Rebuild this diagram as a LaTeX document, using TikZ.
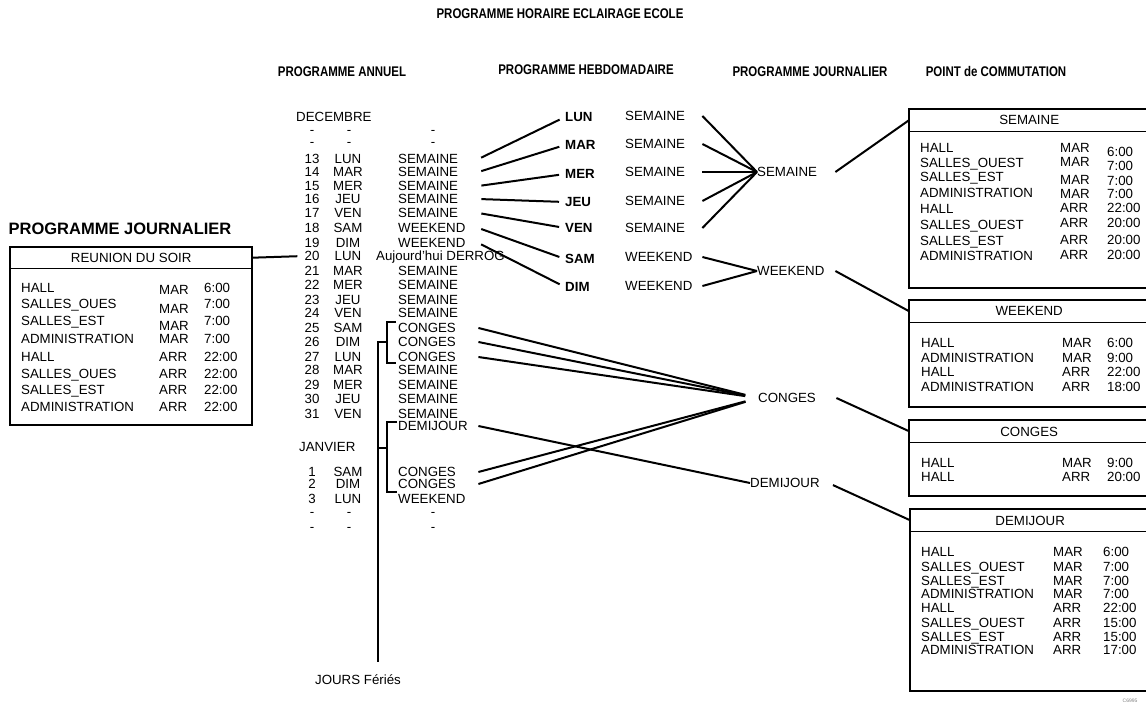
\documentclass[tikz,border=0pt]{standalone}
\usepackage{fontspec}
\setmainfont{Liberation Sans}
\newfontfamily\narrowfont{Liberation Sans}[FakeStretch=0.82]
\newcommand\txtsize{\fontsize{13.3}{15}\selectfont}

\begin{document}
\begin{tikzpicture}[x=1pt, y=-1pt,
  txt/.style={font=\txtsize, inner sep=0pt, text height=9.6pt, text depth=0pt},
  bld/.style={txt, font=\txtsize\bfseries},
  ann/.style={txt, anchor=west, text width=80pt},
  wday/.style={bld, anchor=west},
  wtype/.style={txt, anchor=west, text width=77pt},
  dtype/.style={txt, anchor=west, text width=78pt},
  cell/.style={txt, anchor=west},
  colhead/.style={font=\narrowfont\fontsize{14}{16}\selectfont\bfseries,
    inner sep=0pt, text height=10pt, text depth=0pt},
  bigtitle/.style={font=\fontsize{16.5}{18}\selectfont\bfseries,
    inner sep=0pt, text height=12pt, text depth=0pt},
  hdr/.style={txt, anchor=north west, minimum height=22pt},
  link/.style={line width=2pt},
  frame/.style={line width=2.5pt},
  rule/.style={line width=1.1pt},
  brk/.style={line width=1.3pt}
]
\useasboundingbox (0,0) rectangle (1146,711);

% titres
\node[colhead] (titre) at (560,14) {PROGRAMME HORAIRE ECLAIRAGE ECOLE};
\node[colhead] (hann) at (342,72) {PROGRAMME ANNUEL};
\node[colhead] (hheb) at (586,70) {PROGRAMME HEBDOMADAIRE};
\node[colhead] (hjou) at (810,72) {PROGRAMME JOURNALIER};
\node[colhead] (hpoi) at (996,72) {POINT de COMMUTATION};

% programme annuel
\node[txt, anchor=west] (dec) at (296,117) {DECEMBRE};
\foreach \y [count=\k] in {130,142,512,527} {
  \node[txt] (ta\k) at (312,\y) {-};
  \node[txt] (tb\k) at (349,\y) {-};
  \node[txt] (tc\k) at (433,\y) {-};
}
\foreach \n/\d/\t/\y in {13/LUN/SEMAINE/159, 14/MAR/SEMAINE/172,
    15/MER/SEMAINE/186, 16/JEU/SEMAINE/199, 17/VEN/SEMAINE/213,
    18/SAM/WEEKEND/228, 19/DIM/WEEKEND/243, 21/MAR/SEMAINE/271,
    22/MER/SEMAINE/285, 23/JEU/SEMAINE/300, 24/VEN/SEMAINE/313,
    25/SAM/CONGES/328, 26/DIM/CONGES/342, 27/LUN/CONGES/357,
    28/MAR/SEMAINE/370, 29/MER/SEMAINE/385, 30/JEU/SEMAINE/399,
    31/VEN/SEMAINE/414, 1/SAM/CONGES/472, 2/DIM/CONGES/484,
    3/LUN/WEEKEND/499} {
  \node[txt] (n\n) at (312,\y) {\n};
  \node[txt] (d\n) at (348,\y) {\d};
  \node[ann] (t\n) at (398,\y) {\t};
}
\node[txt] (n20) at (312,256) {20};
\node[txt] (d20) at (348,256) {LUN};
\node[txt, anchor=west] (t20) at (376,256) {Aujourd'hui DERROG};
\node[ann] (tdemi) at (398,426) {DEMIJOUR};
\node[txt, anchor=west] (jan) at (299,447) {JANVIER};
\node[txt] (feries) at (358,680) {JOURS Fériés};

% jours feries
\draw[brk] (396,322) -- (387,322) -- (387,363) -- (396,363);
\draw[brk] (387,342) -- (378,342) -- (378,662);
\draw[brk] (397,422) -- (387,422) -- (387,492) -- (397,492);
\draw[brk] (387,448) -- (378,448);

% programme hebdomadaire
\foreach \d/\y [count=\k] in {LUN/117, MAR/145, MER/174, JEU/202,
    VEN/228, SAM/259, DIM/287}
  \node[wday] (w\k) at (565,\y) {\d};
\foreach \t/\y [count=\k] in {SEMAINE/116, SEMAINE/144, SEMAINE/172,
    SEMAINE/201, SEMAINE/228, WEEKEND/257, WEEKEND/286}
  \node[wtype] (s\k) at (625,\y) {\t};

% programme journalier
\node[dtype] (jsem) at (757,172) {SEMAINE};
\node[dtype] (jwe) at (757,271) {WEEKEND};
\node[dtype] (jcg) at (758,398) {CONGES};
\node[dtype] (jdj) at (750,483) {DEMIJOUR};

% liaisons
\foreach \a/\b in {13/1, 14/2, 15/3, 16/4, 17/5, 18/6, 19/7}
  \draw[link, shorten <=3pt, shorten >=6pt] (t\a.east) -- (w\b.west);
\foreach \k in {1,...,5}
  \draw[link] (s\k.east) -- (jsem.west);
\foreach \k in {6,7}
  \draw[link] (s\k.east) -- (jwe.west);
\foreach \a in {25,26,27,1,2}
  \draw[link, shorten >=13pt] (t\a.east) -- (jcg.west);
\draw[link] (tdemi.east) -- (jdj.west);

% points de commutation
\node[hdr, minimum width=240pt] (hsem) at (909,109) {SEMAINE};
\draw[frame] (hsem.north west) rectangle (1149,288);
\draw[rule] (hsem.south west) -- (hsem.south east);
\foreach \nm/\ny/\md/\my/\tm/\ty [count=\k] in {
    HALL/148/MAR/148/6:00/152, SALLES\_OUEST/163/MAR/162/7:00/166,
    SALLES\_EST/177/MAR/180/7:00/181, ADMINISTRATION/193/MAR/194/7:00/194,
    HALL/209/ARR/208/22:00/208, SALLES\_OUEST/225/ARR/223/20:00/223,
    SALLES\_EST/241/ARR/240/20:00/240, ADMINISTRATION/256/ARR/255/20:00/255} {
  \node[cell] (sn\k) at (920,\ny) {\nm};
  \node[cell] (sm\k) at (1060,\my) {\md};
  \node[cell] (st\k) at (1107,\ty) {\tm};
}

\node[hdr, minimum width=240pt] (hwe) at (909,300) {WEEKEND};
\draw[frame] (hwe.north west) rectangle (1149,407);
\draw[rule] (hwe.south west) -- (hwe.south east);
\foreach \nm/\md/\tm/\y [count=\k] in {HALL/MAR/6:00/343,
    ADMINISTRATION/MAR/9:00/358, HALL/ARR/22:00/372,
    ADMINISTRATION/ARR/18:00/387} {
  \node[cell] (wn\k) at (921,\y) {\nm};
  \node[cell] (wm\k) at (1062,\y) {\md};
  \node[cell] (wt\k) at (1107,\y) {\tm};
}

\node[hdr, minimum width=240pt] (hcg) at (909,420) {CONGES};
\draw[frame] (hcg.north west) rectangle (1149,496);
\draw[rule] (hcg.south west) -- (hcg.south east);
\foreach \nm/\md/\tm/\y [count=\k] in {HALL/MAR/9:00/463, HALL/ARR/20:00/477} {
  \node[cell] (cn\k) at (921,\y) {\nm};
  \node[cell] (cm\k) at (1062,\y) {\md};
  \node[cell] (ct\k) at (1107,\y) {\tm};
}

\node[hdr, minimum width=240pt] (hdj) at (910,509) {DEMIJOUR};
\draw[frame] (hdj.north west) rectangle (1149,691);
\draw[rule] (hdj.south west) -- (hdj.south east);
\foreach \nm/\md/\tm/\y [count=\k] in {HALL/MAR/6:00/552,
    SALLES\_OUEST/MAR/7:00/567, SALLES\_EST/MAR/7:00/581,
    ADMINISTRATION/MAR/7:00/594, HALL/ARR/22:00/608,
    SALLES\_OUEST/ARR/15:00/623, SALLES\_EST/ARR/15:00/637,
    ADMINISTRATION/ARR/17:00/650} {
  \node[cell] (dn\k) at (921,\y) {\nm};
  \node[cell] (dm\k) at (1053,\y) {\md};
  \node[cell] (dt\k) at (1103,\y) {\tm};
}

\draw[link] (jsem.east) -- (hsem.west);
\draw[link] (jwe.east) -- (hwe.west);
\draw[link] (jcg.east) -- (hcg.west);
\draw[link, shorten <=5pt] (jdj.east) -- (hdj.west);

% programme journalier de gauche
\node[bigtitle] (ljou) at (120,229) {PROGRAMME JOURNALIER};
\node[hdr, minimum width=242pt, minimum height=21pt] (hreu) at (10,247) {REUNION DU SOIR};
\draw[frame] (hreu.north west) rectangle (252,425);
\draw[rule] (hreu.south west) -- (hreu.south east);
\foreach \nm/\ny/\md/\my [count=\k] in {HALL/288/MAR/290,
    SALLES\_OUES/304/MAR/309, SALLES\_EST/321/MAR/326,
    ADMINISTRATION/339/MAR/339, HALL/357/ARR/357,
    SALLES\_OUES/374/ARR/374, SALLES\_EST/390/ARR/390,
    ADMINISTRATION/407/ARR/407} {
  \node[cell] (rn\k) at (21,\ny) {\nm};
  \node[cell] (rm\k) at (159,\my) {\md};
}
\foreach \tm/\y [count=\k] in {6:00/288, 7:00/304, 7:00/321, 7:00/339,
    22:00/357, 22:00/374, 22:00/390, 22:00/407}
  \node[cell] (rt\k) at (204,\y) {\tm};
\draw[link, shorten <=7pt] (n20.west) -- (hreu.east);

\node[font=\fontsize{5}{6}\selectfont, text=black!50, inner sep=0pt] (refno) at (1130,701) {C6995};
\end{tikzpicture}
\end{document}
